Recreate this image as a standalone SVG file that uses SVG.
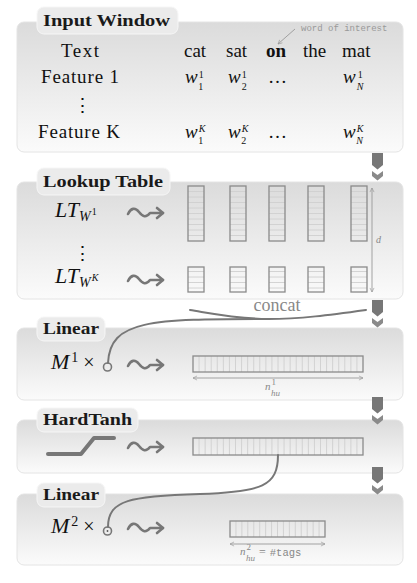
<svg xmlns="http://www.w3.org/2000/svg" width="417" height="583" viewBox="0 0 417 583">
<style>
.panel{fill:url(#pg);stroke:#e4e4e4;stroke-width:1}
.tab{fill:#ebebeb;stroke:#f6f6f6;stroke-width:1}
.lbl{font-family:"Liberation Serif","Times New Roman","DejaVu Serif",serif;font-weight:bold;font-size:17px;fill:#1a1a1a}
.t{font-family:"Liberation Serif","Times New Roman","DejaVu Serif",serif;font-size:19px;fill:#111}
.mi{font-family:"Liberation Serif","Times New Roman","DejaVu Serif",serif;font-style:italic;fill:#111}
.up{font-style:normal}
.gr{font-family:"Liberation Serif","Times New Roman","DejaVu Serif",serif;fill:#888}
.gri{font-family:"Liberation Serif","Times New Roman","DejaVu Serif",serif;font-style:italic;fill:#888}
.mono{font-family:"Liberation Mono","DejaVu Sans Mono",monospace;fill:#999}
.col{fill:none;stroke:#8a8a8a;stroke-width:1.3}
.row{stroke:#cfcfcf;stroke-width:0.9}
.wire{fill:none;stroke:#777;stroke-width:2;stroke-linecap:round}
.dim{fill:none;stroke:#999;stroke-width:0.9}
.sq{fill:none;stroke:#777;stroke-width:2.6;stroke-linecap:round;stroke-linejoin:round}
</style>
<defs>
<linearGradient id="pg" x1="0" y1="0" x2="0" y2="1">
<stop offset="0" stop-color="#dbdbdb"/>
<stop offset="1" stop-color="#fbfbfb"/>
</linearGradient>
<g id="flow">
<path d="M0,0 H11 V12 L5.5,16.5 L0,12 Z" fill="#777"/>
<path d="M0,18 L5.5,22 L11,18 V23 L5.5,27.5 L0,23 Z" fill="#8a8a8a"/>
</g>
<g id="sq">
<path class="sq" d="M0,1 C3,-5 7,-6 11,-1 S18,5 22,0 L35,0"/>
<path class="sq" d="M29,-5 L35,0 L29,5"/>
</g>
<marker id="ah" viewBox="0 0 8 8" refX="7" refY="4" markerWidth="6" markerHeight="6" orient="auto-start-reverse">
<path d="M1,1 L7,4 L1,7" fill="none" stroke="#999" stroke-width="1"/>
</marker>
<path id="rT" class="row" d="M0,5.5H16M0,11H16M0,16.5H16M0,22H16M0,27.5H16M0,33H16M0,38.5H16M0,44H16M0,49.5H16"/>
<path id="rS" class="row" d="M0,4.5H16M0,10H16M0,15.5H16M0,21H16"/>
</defs>

<!-- Input Window -->
<g id="input-window">
<rect class="panel" x="17" y="22" width="386" height="130" rx="7"/>
<rect class="tab" x="37" y="7" width="141" height="27" rx="7"/>
<text class="lbl" x="43" y="26" textLength="127" lengthAdjust="spacingAndGlyphs">Input Window</text>
<text class="t" x="61" y="57" textLength="38">Text</text>
<text class="t" x="184" y="57">cat</text>
<text class="t" x="226" y="57">sat</text>
<text class="t" x="266" y="57" font-weight="bold">on</text>
<text class="t" x="303" y="57">the</text>
<text class="t" x="342" y="57">mat</text>
<text class="mono" x="301" y="31" font-size="9">word of interest</text>
<line x1="295" y1="29" x2="278" y2="44" stroke="#999" stroke-width="0.9" marker-end="url(#ah)"/>
<text class="t" x="41" y="83" textLength="78">Feature 1</text>
<text class="mi" x="185" y="83" font-size="19">w<tspan class="up" font-size="10" dx="1" dy="-5">1</tspan><tspan class="up" font-size="10" dx="-5" dy="12">1</tspan></text>
<text class="mi" x="228" y="83" font-size="19">w<tspan class="up" font-size="10" dx="1" dy="-5">1</tspan><tspan class="up" font-size="10" dx="-5" dy="12">2</tspan></text>
<text class="t" x="268" y="83">…</text>
<text class="mi" x="343" y="83" font-size="19">w<tspan class="up" font-size="10" dx="2" dy="-5">1</tspan><tspan font-size="10" dx="-6" dy="12">N</tspan></text>
<text class="t" x="82" y="112" text-anchor="middle">⋮</text>
<text class="t" x="38" y="138" textLength="82">Feature K</text>
<text class="mi" x="185" y="138" font-size="19">w<tspan font-size="10" dx="1" dy="-6">K</tspan><tspan class="up" font-size="10" dx="-7" dy="12">1</tspan></text>
<text class="mi" x="228" y="138" font-size="19">w<tspan font-size="10" dx="1" dy="-6">K</tspan><tspan class="up" font-size="10" dx="-7" dy="12">2</tspan></text>
<text class="t" x="268" y="138">…</text>
<text class="mi" x="343" y="138" font-size="19">w<tspan font-size="10" dx="1" dy="-6">K</tspan><tspan font-size="10" dx="-7" dy="12">N</tspan></text>
</g>

<!-- Lookup Table -->
<g id="lookup-table">
<rect class="panel" x="17" y="182" width="386" height="117" rx="7"/>
<rect class="tab" x="37" y="168" width="133" height="27" rx="7"/>
<text class="lbl" x="43" y="187" textLength="120" lengthAdjust="spacingAndGlyphs">Lookup Table</text>
<text class="mi" x="55" y="217" font-size="22">LT<tspan font-size="14" dy="4">W</tspan><tspan class="up" font-size="10" dx="1" dy="-6">1</tspan></text>
<text class="t" x="82" y="260" text-anchor="middle">⋮</text>
<text class="mi" x="55" y="283" font-size="22">LT<tspan font-size="14" dy="4">W</tspan><tspan font-size="10" dx="1" dy="-6">K</tspan></text>
<use href="#sq" x="128" y="213"/>
<use href="#sq" x="128" y="280"/>
<g id="tall-cols">
<g transform="translate(188,186)"><use href="#rT"/><rect class="col" width="16" height="55"/></g>
<g transform="translate(230,186)"><use href="#rT"/><rect class="col" width="16" height="55"/></g>
<g transform="translate(269,186)"><use href="#rT"/><rect class="col" width="16" height="55"/></g>
<g transform="translate(308,186)"><use href="#rT"/><rect class="col" width="16" height="55"/></g>
<g transform="translate(351,186)"><use href="#rT"/><rect class="col" width="16" height="55"/></g>
</g>
<g id="short-cols">
<g transform="translate(188,267)"><use href="#rS"/><rect class="col" width="16" height="25"/></g>
<g transform="translate(230,267)"><use href="#rS"/><rect class="col" width="16" height="25"/></g>
<g transform="translate(269,267)"><use href="#rS"/><rect class="col" width="16" height="25"/></g>
<g transform="translate(308,267)"><use href="#rS"/><rect class="col" width="16" height="25"/></g>
<g transform="translate(351,267)"><use href="#rS"/><rect class="col" width="16" height="25"/></g>
</g>
<line class="dim" x1="372" y1="188" x2="372" y2="292" marker-start="url(#ah)" marker-end="url(#ah)"/>
<text class="gri" x="376" y="243" font-size="10">d</text>
</g>

<!-- Linear 1 -->
<g id="linear-1">
<rect class="panel" x="17" y="328" width="386" height="72" rx="7"/>
<rect class="tab" x="37" y="317" width="68" height="24" rx="7"/>
<text class="lbl" x="43" y="334" textLength="56" lengthAdjust="spacingAndGlyphs">Linear</text>
<text class="mi" x="51" y="369" font-size="22">M<tspan class="up" font-size="14" dx="2" dy="-7">1</tspan><tspan class="up" font-size="20" dx="5" dy="7">×</tspan></text>
<circle cx="107.5" cy="367" r="4" fill="none" stroke="#777" stroke-width="1.6"/>
<use href="#sq" x="128" y="365"/>
<g transform="translate(193,356)">
<path class="row" d="M6.07,0V16M12.14,0V16M18.21,0V16M24.29,0V16M30.36,0V16M36.43,0V16M42.5,0V16M48.57,0V16M54.64,0V16M60.71,0V16M66.79,0V16M72.86,0V16M78.93,0V16M85,0V16M91.07,0V16M97.14,0V16M103.21,0V16M109.29,0V16M115.36,0V16M121.43,0V16M127.5,0V16M133.57,0V16M139.64,0V16M145.71,0V16M151.79,0V16M157.86,0V16M163.93,0V16"/>
<rect class="col" width="170" height="16"/>
</g>
<line class="dim" x1="193" y1="378" x2="363" y2="378" marker-start="url(#ah)" marker-end="url(#ah)"/>
<text class="gri" x="265" y="390" font-size="11">n<tspan class="up" font-size="9" dx="1" dy="-5">1</tspan><tspan font-size="9" dx="-5" dy="11">hu</tspan></text>
</g>

<!-- HardTanh -->
<g id="hardtanh">
<rect class="panel" x="17" y="420" width="386" height="53" rx="7"/>
<rect class="tab" x="37" y="408" width="101" height="24" rx="7"/>
<text class="lbl" x="43" y="425" textLength="89" lengthAdjust="spacingAndGlyphs">HardTanh</text>
<polyline points="48,454 81,454 94,438 114,438" fill="none" stroke="#777" stroke-width="4" stroke-linecap="round" stroke-linejoin="round"/>
<use href="#sq" x="128" y="447"/>
<g transform="translate(193,438)">
<path class="row" d="M6.07,0V17M12.14,0V17M18.21,0V17M24.29,0V17M30.36,0V17M36.43,0V17M42.5,0V17M48.57,0V17M54.64,0V17M60.71,0V17M66.79,0V17M72.86,0V17M78.93,0V17M85,0V17M91.07,0V17M97.14,0V17M103.21,0V17M109.29,0V17M115.36,0V17M121.43,0V17M127.5,0V17M133.57,0V17M139.64,0V17M145.71,0V17M151.79,0V17M157.86,0V17M163.93,0V17"/>
<rect class="col" width="170" height="17"/>
</g>
</g>

<!-- Linear 2 -->
<g id="linear-2">
<rect class="panel" x="17" y="494" width="386" height="71" rx="7"/>
<rect class="tab" x="37" y="483" width="68" height="24" rx="7"/>
<text class="lbl" x="43" y="500" textLength="56" lengthAdjust="spacingAndGlyphs">Linear</text>
<text class="mi" x="51" y="533" font-size="22">M<tspan class="up" font-size="14" dx="2" dy="-7">2</tspan><tspan class="up" font-size="20" dx="5" dy="7">×</tspan></text>
<circle cx="107.5" cy="531" r="4" fill="none" stroke="#777" stroke-width="1.6"/>
<circle cx="107.5" cy="531" r="0.9" fill="#555"/>
<use href="#sq" x="128" y="528"/>
<g transform="translate(230,521)">
<path class="row" d="M5.94,0V16M11.88,0V16M17.81,0V16M23.75,0V16M29.69,0V16M35.63,0V16M41.56,0V16M47.5,0V16M53.44,0V16M59.38,0V16M65.31,0V16M71.25,0V16M77.19,0V16M83.13,0V16M89.06,0V16"/>
<rect class="col" width="95" height="16"/>
</g>
<line class="dim" x1="230" y1="544" x2="325" y2="544" marker-start="url(#ah)" marker-end="url(#ah)"/>
<text class="gri" x="240" y="555" font-size="11">n<tspan class="up" font-size="9" dx="1" dy="-5">2</tspan><tspan font-size="9" dx="-5" dy="11">hu</tspan><tspan class="up" font-size="12" dx="4" dy="-5">=</tspan><tspan class="up" font-family="Liberation Mono, DejaVu Sans Mono, monospace" font-size="10.5" dx="4">#tags</tspan></text>
</g>

<!-- connectors -->
<g id="connectors">
<use href="#flow" x="372" y="153"/>
<use href="#flow" x="372" y="300"/>
<use href="#flow" x="372" y="397"/>
<use href="#flow" x="372" y="467"/>
<text class="gr" x="277" y="311" font-size="18" text-anchor="middle">concat</text>
<path class="wire" d="M190,310 C215,314 240,319 268,319"/>
<path class="wire" d="M366,310 C330,315 300,319 268,319 C150,319 110,320 108,363"/>
<path class="wire" d="M278,455 C278,486 262,492 200,494 C130,496 108,500 108,527"/>
</g>
</svg>
